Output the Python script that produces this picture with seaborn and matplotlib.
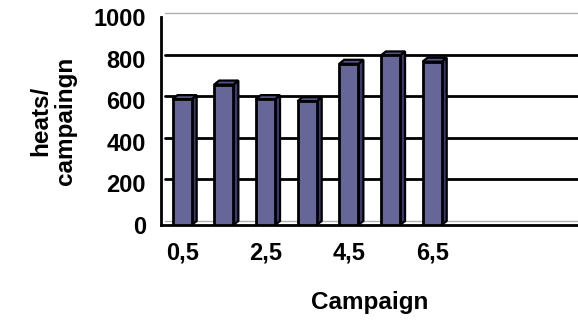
import numpy as np
import pandas as pd
import seaborn as sns
import matplotlib.pyplot as plt
import matplotlib.transforms as mtransforms
from matplotlib.patches import Polygon

# values
campaign = [0.5, 1.5, 2.5, 3.5, 4.5, 5.5, 6.5]
heats = [605, 675, 605, 595, 775, 815, 785]
tick_labels = ["0,5", "2,5", "4,5", "6,5"]
label_pos = [0.5, 2.5, 4.5, 6.5]

df = pd.DataFrame({"Campaign": campaign, "heats": heats})

sns.set_style("white")
plt.rcParams["font.family"] = ["Liberation Sans", "DejaVu Sans"]
plt.rcParams["font.weight"] = "bold"
plt.rcParams["text.color"] = "black"
plt.rcParams["axes.labelcolor"] = "black"
plt.rcParams["xtick.color"] = "black"
plt.rcParams["ytick.color"] = "black"

fig = plt.figure(figsize=(5.78, 3.2), dpi=100)
ax = fig.add_axes([0.279, 0.297, 0.721, 0.65])

front = "#666699"
side = "#3a3a6e"
top = "#55558a"

sns.barplot(data=df, x="Campaign", y="heats", native_scale=True, width=0.46,
            color=front, edgecolor="black", linewidth=2, saturation=1, ax=ax, zorder=3)

ax.set_xlim(0, 10)
ax.set_ylim(0, 1000)

# back wall gridlines (shifted for the 3D look)
shift = mtransforms.ScaledTranslation(4 / 100, 4 / 100, fig.dpi_scale_trans)
for v in [200, 400, 600, 800]:
    ax.plot([0, 1], [v, v], color="black", lw=2, transform=ax.get_yaxis_transform() + shift,
            zorder=1, clip_on=False)
for v in [0, 1000]:
    ax.plot([0, 1], [v, v], color="#b0b0b0", lw=1, transform=ax.get_yaxis_transform() + shift,
            zorder=1, clip_on=False)

# depth faces for each bar
dx, dy = 5, 4
inv = ax.transData.inverted()
for p in ax.patches[:len(heats)]:
    x0, y0 = ax.transData.transform((p.get_x(), 0))
    x1, y1 = ax.transData.transform((p.get_x() + p.get_width(), p.get_height()))
    sidep = [inv.transform(q) for q in [(x1, y0), (x1 + dx, y0 + dy), (x1 + dx, y1 + dy), (x1, y1)]]
    topp = [inv.transform(q) for q in [(x0, y1), (x0 + dx, y1 + dy), (x1 + dx, y1 + dy), (x1, y1)]]
    ax.add_patch(Polygon(sidep, closed=True, fc=side, ec="black", lw=1.6, zorder=2.5))
    ax.add_patch(Polygon(topp, closed=True, fc=top, ec="black", lw=1.6, zorder=2.5))

ax.set_xticks(np.arange(0, 11))
ax.set_xticklabels([])
ax.set_xticks(label_pos, minor=True)
ax.set_xticklabels(tick_labels, minor=True)
ax.tick_params(axis="x", which="minor", length=0, pad=12, labelsize=17)
ax.tick_params(axis="x", which="major", direction="out", length=5, width=2, color="black")
ax.set_yticks([0, 200, 400, 600, 800, 1000])
ax.tick_params(axis="y", direction="out", length=5, width=2, color="black", labelsize=17, pad=6)
for lab in ax.get_yticklabels() + ax.get_xticklabels(minor=True):
    lab.set_fontweight("bold")

sns.despine(ax=ax, top=True, right=True)
for s in ["left", "bottom"]:
    ax.spines[s].set_linewidth(2)
    ax.spines[s].set_color("black")

ax.set_xlabel("Campaign", fontsize=17.5, fontweight="bold", labelpad=19)
ax.set_ylabel("heats/\ncampaingn", fontsize=17.5, fontweight="bold", labelpad=12, linespacing=1.08)

fig.savefig("out.png", dpi=100)
